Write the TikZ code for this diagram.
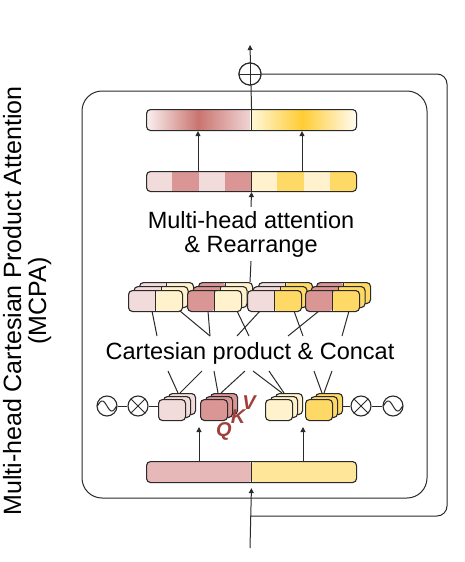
\documentclass[tikz,border=0pt]{standalone}
\usepackage{fontspec}
\setmainfont{Liberation Sans}
\usetikzlibrary{arrows.meta,calc}
\definecolor{lineC}{HTML}{2A2A2A}
\definecolor{pinkL}{HTML}{F2DCDB}
\definecolor{rose}{HTML}{D99694}
\definecolor{yelL}{HTML}{FFF2CC}
\definecolor{gold}{HTML}{FFD966}
\definecolor{barL}{HTML}{E6B9B8}
\definecolor{barR}{HTML}{FFE699}
\definecolor{gA}{HTML}{FBF1F1}
\definecolor{gB}{HTML}{C9746F}
\definecolor{gC}{HTML}{EFD6D5}
\definecolor{hA}{HTML}{FFF8DC}
\definecolor{hB}{HTML}{FFCC33}
\definecolor{hC}{HTML}{FFFBF2}
\definecolor{qkvC}{HTML}{A0403C}
\tikzset{
  ln/.style={draw=lineC, line width=1pt},
  arr/.style={ln, -{Triangle[length=5pt,width=5pt]}},
  split/.style 2 args={draw=lineC, line width=1.1pt, rounded corners=4pt, inner sep=0pt, anchor=north west,
    path picture={
      \fill[#1] (path picture bounding box.south west) rectangle (path picture bounding box.north);
      \fill[#2] (path picture bounding box.south) rectangle (path picture bounding box.north east);
      \draw[lineC, line width=1pt] (path picture bounding box.south) -- (path picture bounding box.north);}},
  pairblk/.style 2 args={split={#1}{#2}, minimum width=54pt, minimum height=21pt},
  oneblk/.style={draw=lineC, line width=1.1pt, rounded corners=4pt, minimum width=27pt, minimum height=21pt, inner sep=0pt, anchor=north west, fill=#1},
  barbox/.style={draw=lineC, line width=1.1pt, rounded corners=4pt, minimum width=210pt, inner sep=0pt, anchor=north west},
  ring/.style={circle, draw=lineC, line width=1.1pt, minimum size=20pt, inner sep=0pt, fill=white},
  lbl/.style={font=\fontsize{23.5}{25}\selectfont, inner sep=4pt, anchor=base},
  vlbl/.style={font=\fontsize{25}{26}\selectfont, inner sep=0pt, anchor=base, rotate=90},
  qkv/.style={font=\fontsize{20}{20}\selectfont\bfseries\itshape, text=qkvC, inner sep=0pt},
}
\newcommand{\pstack}[5]{%
  \node[pairblk={#4}{#5}] (#1b) at ({#2+11},{#3-8}) {};
  \node[pairblk={#4}{#5}] (#1m) at ({#2+5.5},{#3-4}) {};
  \node[pairblk={#4}{#5}] (#1) at (#2,#3) {};}
\newcommand{\ostack}[4]{%
  \node[oneblk=#4] (#1b) at ({#2+10},{#3-6}) {};
  \node[oneblk=#4] (#1m) at ({#2+5},{#3-3}) {};
  \node[oneblk=#4] (#1) at (#2,#3) {};}
\begin{document}
\begin{tikzpicture}[x=1pt,y=-1pt]
\useasboundingbox (0,0) rectangle (465,562);

% side label
\node[vlbl] (t1) at (21,301) {Multi-head Cartesian Product Attention};
\node[vlbl] (t2) at (46,301) {(MCPA)};

% frame
\draw[lineC, line width=1pt, rounded corners=20pt] (82,91) rectangle (427,498);

% coordinates
\coordinate (in) at (250,548);
\coordinate (res) at (250,516);
\coordinate (out) at (250,45);
\coordinate (cpn) at (250,336);
\coordinate (cps) at (250,371);
\coordinate (ka) at (199,427);
\coordinate (kb) at (303,427);

% plus node
\node[ring, minimum size=22pt] (plus) at (250,74) {};

% residual
\draw[ln, rounded corners=10pt] (res) -| (447,74) -- (plus.east);

% bottom bar
\node[barbox, split={barL}{barR}, minimum height=21pt] (bar0) at (146,461) {};
\draw[arr, shorten >=5pt] (in) -- (bar0.south);
\draw[arr] (bar0.north -| ka) -- (ka);
\draw[arr] (bar0.north -| kb) -- (kb);

% bar2 (8 segments)
\begin{scope}
  \clip[rounded corners=4pt] (146,171) rectangle (356,191);
  \foreach \i/\c in {0/pinkL,1/rose,2/pinkL,3/rose,4/yelL,5/gold,6/yelL,7/gold}
    \fill[\c] ({146+\i*26.25},171) rectangle ({146+(\i+1)*26.25},191);
\end{scope}
\node[barbox, minimum height=20pt] (bar2) at (146,171) {};
\draw[ln] (bar2.north) -- (bar2.south);

% bar1 (gradient)
\begin{scope}
  \clip[rounded corners=4pt] (146,109) rectangle (356,130);
  \shade[left color=gA, right color=gB] (146,109) rectangle (198.5,130);
  \shade[left color=gB, right color=gC] (198,109) rectangle (250.5,130);
  \shade[left color=hA, right color=hB] (250,109) rectangle (302.5,130);
  \shade[left color=hB, right color=hC] (302,109) rectangle (356,130);
\end{scope}
\node[barbox, minimum height=21pt] (bar1) at (146,109) {};
\draw[ln] (bar1.north) -- (bar1.south);
\draw[arr] (bar1.north) -- (out);
\node[ring, minimum size=22pt, path picture={
  \draw[lineC, line width=1pt] (path picture bounding box.north) -- (path picture bounding box.south);
  \draw[lineC, line width=1pt] (path picture bounding box.west) -- (path picture bounding box.east);}] (plusB) at (plus) {};

\draw[arr] (bar2.north -| 198,0) -- (bar1.south -| 198,0);
\draw[arr] (bar2.north -| 302,0) -- (bar1.south -| 302,0);

% texts
\node[lbl] (mh1) at (251,228) {Multi-head attention};
\node[lbl] (mh2) at (251,252) {\& Rearrange};
\node[lbl] (cp) at (250,359) {Cartesian product \& Concat};
\draw[arr] (mh1.north) -- (bar2.south);
\draw[ln] (250,282) -- (mh2.south);

% top fan lines
\coordinate (s1p) at (128,311);
\coordinate (s2p) at (187,311);
\coordinate (s3p) at (247,311);
\coordinate (s4p) at (305,311);
\draw[ln] ($(s1p)+(24,0)$) -- ($(cpn)+(-93,0)$);
\draw[ln] ($(s1p)+(52,0)$) -- ($(cpn)+(-40,0)$);
\draw[ln] ($(s2p)+(21,0)$) -- ($(cpn)+(-40,0)$);
\draw[ln] ($(s2p)+(50,0)$) -- ($(cpn)+(-1,0)$);
\draw[ln] ($(s3p)+(13,0)$) -- ($(cpn)+(-13,0)$);
\draw[ln] ($(s3p)+(47,0)$) -- ($(cpn)+(53,0)$);
\draw[ln] ($(s4p)+(14,0)$) -- ($(cpn)+(38,0)$);
\draw[ln] ($(s4p)+(44,0)$) -- ($(cpn)+(92,0)$);

% middle stacks
\pstack{s1}{128}{290}{pinkL}{yelL}
\pstack{s2}{187}{290}{rose}{yelL}
\pstack{s3}{247}{290}{pinkL}{gold}
\pstack{s4}{305}{290}{rose}{gold}

% bottom fan lines
\coordinate (qap) at (168,393);
\coordinate (qbp) at (210,393);
\coordinate (qcp) at (275,393);
\coordinate (qdp) at (315,393);
\draw[ln] ($(cps)+(-82,0)$) -- ($(qap)+(10,0)$);
\draw[ln] ($(cps)+(-48,0)$) -- ($(qap)+(12,0)$);
\draw[ln] ($(cps)+(-36,0)$) -- ($(qbp)+(8,0)$);
\draw[ln] ($(cps)+(-5,0)$) -- ($(qbp)+(11,0)$);
\draw[ln] ($(cps)+(3,0)$) -- ($(qcp)+(7,0)$);
\draw[ln] ($(cps)+(19,0)$) -- ($(qcp)+(9,0)$);
\draw[ln] ($(cps)+(64,0)$) -- ($(qdp)+(7,0)$);
\draw[ln] ($(cps)+(82,0)$) -- ($(qdp)+(9,0)$);

% oscillators and multipliers
\node[ring] (sinL) at (107,406) {};
\node[ring, path picture={
  \draw[lineC, line width=1pt] (path picture bounding box.north west) -- (path picture bounding box.south east);
  \draw[lineC, line width=1pt] (path picture bounding box.south west) -- (path picture bounding box.north east);}] (mulL) at (138,406) {};
\node[ring, path picture={
  \draw[lineC, line width=1pt] (path picture bounding box.north west) -- (path picture bounding box.south east);
  \draw[lineC, line width=1pt] (path picture bounding box.south west) -- (path picture bounding box.north east);}] (mulR) at (361,406) {};
\node[ring] (sinR) at (393,406) {};
\foreach \s in {sinL,sinR}
  \draw[lineC, line width=1pt, shift={(\s.center)}] plot[domain=-9.6:9.6, samples=41, smooth] (\x, {5*sin(\x*18.75)});

% lower stacks
\ostack{qa}{158}{399}{pinkL}
\ostack{qb}{200}{399}{rose}
\ostack{qc}{265}{399}{yelL}
\ostack{qd}{305}{399}{gold}
\draw[ln] (sinL) -- (mulL) -- (mulL -| qa.west);
\draw[ln] (mulR -| qdb.east) -- (mulR) -- (sinR);

% QKV
\node[qkv] (q) at (224,431) {Q};
\node[qkv] (k) at (238,417) {K};
\node[qkv] (v) at (249,403) {V};
\end{tikzpicture}
\end{document}
